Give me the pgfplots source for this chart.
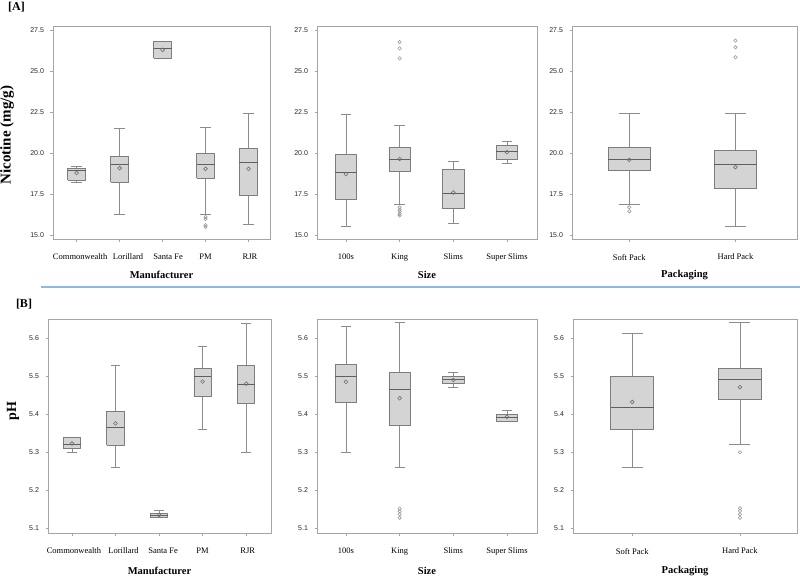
\documentclass[border=0pt]{standalone}
\usepackage{fontspec}
\setmainfont{Liberation Serif}
\newfontfamily\tickfont{Liberation Sans}
\usepackage{pgfplots}
\pgfplotsset{compat=1.18}
\definecolor{boxfill}{RGB}{212,212,212}
\definecolor{boxc}{RGB}{125,125,125}
\definecolor{medc}{RGB}{95,95,95}
\definecolor{whc}{RGB}{140,140,140}
\definecolor{avgc}{RGB}{110,110,110}
\definecolor{outc}{RGB}{150,150,150}
\definecolor{framec}{RGB}{165,165,165}
\definecolor{sepc}{RGB}{140,185,230}
% box: #1 position, #2 half box width, #3 half cap width,
%      #4 lower whisker, #5 lower quartile, #6 median, #7 upper quartile, #8 upper whisker, #9 mean
\newcommand{\bp}[9]{%
  \pgfmathsetmacro\bpxa{#1-#2}\pgfmathsetmacro\bpxb{#1+#2}%
  \pgfmathsetmacro\bpca{#1-#3}\pgfmathsetmacro\bpcb{#1+#3}%
  \addplot[whc, line width=0.75pt] coordinates {(#1,#4) (#1,#5)};
  \addplot[whc, line width=0.75pt] coordinates {(#1,#7) (#1,#8)};
  \addplot[whc, line width=0.75pt] coordinates {(\bpca,#4) (\bpcb,#4)};
  \addplot[whc, line width=0.75pt] coordinates {(\bpca,#8) (\bpcb,#8)};
  \addplot[draw=boxc, fill=boxfill, line width=0.8pt, line join=round] coordinates {(\bpxa,#5) (\bpxb,#5) (\bpxb,#7) (\bpxa,#7) (\bpxa,#5)};
  \addplot[medc, line width=0.9pt] coordinates {(\bpxa,#6) (\bpxb,#6)};
  \addplot[only marks, mark=o, mark size=1.9pt, mark options={draw=avgc, line width=0.6pt}] coordinates {(#1,#9)};
}
\pgfplotsset{
  panel/.style={
    scale only axis,
    axis line style={framec, line width=0.8pt},
    tick style={framec, line width=0.6pt},
    tick align=outside, major tick length=2.5pt,
    xtick pos=bottom, ytick pos=left,
    /pgf/number format/assume math mode=true,
    /pgf/number format/fixed, /pgf/number format/fixed zerofill,
    /pgf/number format/precision=1,
    yticklabel style={font=\tickfont\fontsize{7}{8}\selectfont, text=black!85, xshift=-3pt},
    xticklabel style={font=\fontsize{8.5}{10}\selectfont, yshift=-9pt},
    xlabel style={font=\bfseries\fontsize{10.5}{12}\selectfont, at={(axis description cs:0.5,0)}, anchor=center, yshift=-36pt},
  },
  outl/.style={only marks, mark=o, mark size=1.7pt, mark options={draw=outc, line width=0.55pt}},
  toprow/.style={ymin=14.76, ymax=27.78, ytick={15,17.5,20,22.5,25,27.5}, height=213pt},
  botrow/.style={ymin=5.088, ymax=5.65, ytick={5.1,5.2,5.3,5.4,5.5,5.6}, height=214pt},
}
\begin{document}
\begin{tikzpicture}
\path[use as bounding box] (0,0) rectangle (800pt,-578pt);

% ---------- [A] Nicotine, Manufacturer
\begin{axis}[panel, toprow, at={(53pt,-239pt)}, anchor=south west, width=217pt,
  xmin=-0.55, xmax=4.5, xtick={0,1,2,3,4},
  xticklabels={\hspace*{7pt}Commonwealth,\hspace*{17pt}Lorillard,\hspace*{11pt}Santa Fe,PM,\hspace*{3pt}RJR}, xlabel={Manufacturer}]
\bp{0}{0.21}{0.12}{18.2}{18.35}{18.95}{19.1}{19.2}{18.8}
\bp{1}{0.21}{0.13}{16.28}{18.25}{19.33}{19.8}{21.5}{19.09}
\bp{2}{0.21}{0.13}{25.81}{25.81}{26.42}{26.81}{26.81}{26.32}
\bp{3}{0.21}{0.13}{16.28}{18.48}{19.31}{20.0}{21.6}{19.05}
\bp{4}{0.21}{0.13}{15.67}{17.4}{19.41}{20.29}{22.41}{19.05}
\addplot[outl] coordinates {(3,16.1) (3,15.98) (3,15.6) (3,15.5)};
\end{axis}

% ---------- [A] Nicotine, Size
\begin{axis}[panel, toprow, at={(317pt,-239pt)}, anchor=south west, width=220pt,
  xmin=-0.54, xmax=3.56, xtick={0,1,2,3},
  xticklabels={100s,King,Slims,Super Slims}, xlabel={Size}]
\bp{0}{0.2}{0.1}{15.52}{17.18}{18.8}{19.91}{22.4}{18.73}
\bp{1}{0.2}{0.1}{16.85}{18.92}{19.63}{20.33}{21.71}{19.65}
\bp{2}{0.2}{0.1}{15.72}{16.61}{17.54}{19.0}{19.5}{17.6}
\bp{3}{0.2}{0.1}{19.4}{19.6}{20.11}{20.5}{20.72}{20.07}
\addplot[outl] coordinates {(1,26.79) (1,26.41) (1,25.8) (1,16.7) (1,16.55) (1,16.45) (1,16.3) (1,16.2)};
\end{axis}

% ---------- [A] Nicotine, Packaging
\begin{axis}[panel, toprow, at={(572pt,-239pt)}, anchor=south west, width=225pt,
  xmin=-0.54, xmax=1.58, xtick={0,1},
  xticklabels={Soft Pack,Hard Pack}, xlabel={Packaging}]
\bp{0}{0.2}{0.1}{16.86}{18.94}{19.62}{20.37}{22.46}{19.6}
\bp{1}{0.2}{0.1}{15.53}{17.86}{19.29}{20.15}{22.46}{19.15}
\addplot[outl] coordinates {(0,16.7) (0,16.45) (1,26.89) (1,26.48) (1,25.87)};
\end{axis}

% ---------- [B] pH, Manufacturer
\begin{axis}[panel, botrow, at={(48pt,-533pt)}, anchor=south west, width=223pt,
  xmin=-0.55, xmax=4.57, xtick={0,1,2,3,4},
  xticklabels={\hspace*{4pt}Commonwealth,\hspace*{16pt}Lorillard,\hspace*{8pt}Santa Fe,PM,\hspace*{3pt}RJR}, xlabel={Manufacturer},
  xlabel style={yshift=-2pt}]
\bp{0}{0.2}{0.11}{5.30}{5.31}{5.321}{5.34}{5.34}{5.323}
\bp{1}{0.2}{0.11}{5.26}{5.319}{5.365}{5.408}{5.529}{5.376}
\bp{2}{0.2}{0.11}{5.13}{5.13}{5.135}{5.139}{5.148}{5.135}
\bp{3}{0.2}{0.11}{5.359}{5.448}{5.50}{5.519}{5.579}{5.486}
\bp{4}{0.2}{0.11}{5.30}{5.429}{5.479}{5.529}{5.639}{5.48}
\end{axis}

% ---------- [B] pH, Size
\begin{axis}[panel, botrow, at={(317pt,-533pt)}, anchor=south west, width=220pt,
  xmin=-0.54, xmax=3.56, xtick={0,1,2,3},
  xticklabels={100s,King,Slims,Super Slims}, xlabel={Size},
  xlabel style={yshift=-2pt}]
\bp{0}{0.2}{0.095}{5.30}{5.43}{5.50}{5.531}{5.63}{5.485}
\bp{1}{0.2}{0.095}{5.26}{5.37}{5.465}{5.51}{5.64}{5.442}
\bp{2}{0.2}{0.095}{5.471}{5.48}{5.491}{5.50}{5.51}{5.49}
\bp{3}{0.2}{0.095}{5.38}{5.38}{5.392}{5.40}{5.411}{5.393}
\addplot[outl] coordinates {(1,5.152) (1,5.145) (1,5.137) (1,5.128)};
\end{axis}

% ---------- [B] pH, Packaging
\begin{axis}[panel, botrow, at={(573pt,-533pt)}, anchor=south west, width=224pt,
  xmin=-0.55, xmax=1.53, xtick={0,1},
  xticklabels={Soft Pack,Hard Pack}, xlabel={Packaging},
  xlabel style={yshift=-2pt}]
\bp{0}{0.2}{0.098}{5.26}{5.359}{5.419}{5.50}{5.611}{5.432}
\bp{1}{0.2}{0.098}{5.32}{5.44}{5.49}{5.52}{5.641}{5.471}
\addplot[outl] coordinates {(1,5.30) (1,5.153) (1,5.146) (1,5.137) (1,5.128)};
\end{axis}

% ---------- labels and separator
\node[font=\bfseries\fontsize{12}{14}\selectfont] at (16.5pt,-7pt) {[A]};
\node[font=\bfseries\fontsize{12}{14}\selectfont] at (24pt,-304pt) {[B]};
\node[font=\bfseries\fontsize{15}{17}\selectfont, rotate=90] at (7pt,-135pt) {Nicotine (mg/g)};
\node[font=\bfseries\fontsize{14}{16}\selectfont, rotate=90] at (13pt,-411pt) {pH};
\draw[sepc, line width=1.5pt] (41pt,-287pt) -- (800pt,-287pt);
\end{tikzpicture}
\end{document}
